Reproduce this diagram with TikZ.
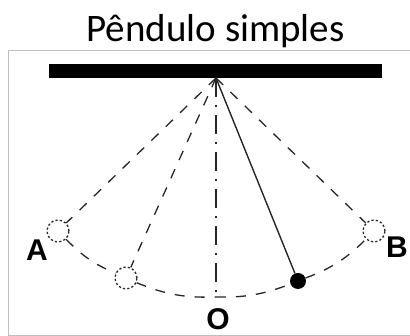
\documentclass[tikz,border=0pt]{standalone}
\usepackage{fontspec}
\setmainfont{Carlito}
\newfontfamily\labelfont{Liberation Sans}
\usetikzlibrary{positioning}

\begin{document}
\begin{tikzpicture}[
    x=1pt, y=1pt,
    framebox/.style={draw=black!25, line width=0.8pt},
    barbox/.style={rectangle, fill=black, inner sep=0pt, minimum width=333pt, minimum height=14pt},
    ghostbob/.style={circle, draw=black!85, line width=1.3pt, dash pattern=on 2.2pt off 2.2pt, fill=white, inner sep=0pt, minimum size=22pt},
    realbob/.style={circle, fill=black, inner sep=0pt, minimum size=16pt},
    swing/.style={draw=black!85, line width=1.3pt, dash pattern=on 10pt off 10pt},
    axisline/.style={draw=black!85, line width=1.3pt, dash pattern=on 19pt off 8pt on 2pt off 8pt},
    pointlabel/.style={font=\labelfont\bfseries\fontsize{30}{30}\selectfont, inner sep=0pt}
]
    \useasboundingbox (0,0) rectangle (410,336);
    \draw [framebox] (410,286) -- (8.5,286) -- (8.5,1) -- (410,1);

    \node [font=\fontsize{39}{39}\selectfont, inner sep=0pt] (title) at (215.5,305) {Pêndulo simples};
    \node [barbox] (bar) at (215.5,265) {};
    \coordinate (pivot) at (216,258);

    \node [ghostbob] (left) at (58,105) {};
    \node [ghostbob] (mid) at (126,58) {};
    \node [ghostbob] (right) at (374,105) {};
    \node [realbob] (bob) at (298,55) {};
    \coordinate (low) at (216,39);

    \node [pointlabel] (labA) at (37,86) {A};
    \node [pointlabel] (labB) at (397,89) {B};
    \node [pointlabel] (labO) at (218,17) {O};

    \draw [swing] (pivot) -- (left);
    \draw [swing] (pivot) -- (mid);
    \draw [swing] (pivot) -- (right);
    \draw [axisline] (pivot) -- (low);
    \draw [draw=black!85, line width=1.4pt] (pivot) -- (bob);

    \draw [swing] (left) to[bend right=11] (mid);
    \draw [swing] (mid) to[bend right=12] (low);
    \draw [swing] (low) to[bend right=11] (bob);
    \draw [swing] (bob) to[bend right=12] (right);
\end{tikzpicture}
\end{document}
